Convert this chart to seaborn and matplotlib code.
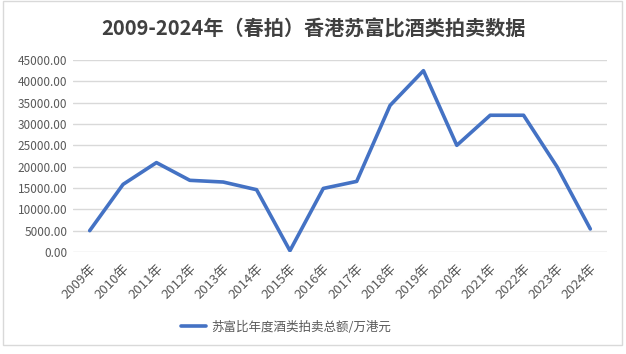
import numpy as np
import pandas as pd
import matplotlib
matplotlib.use("Agg")
from matplotlib import pyplot as plt
from matplotlib.patches import Rectangle
from matplotlib.ticker import FuncFormatter
import seaborn as sns

# data
years = ['2009年', '2010年', '2011年', '2012年', '2013年', '2014年', '2015年', '2016年',
         '2017年', '2018年', '2019年', '2020年', '2021年', '2022年', '2023年', '2024年']
totals = [5000, 15850, 20950, 16800, 16400, 14600, 300, 14900,
          16550, 34350, 42500, 25000, 32050, 32050, 20000, 5400]
series_name = '苏富比年度酒类拍卖总额/万港元'
title = '2009-2024年（春拍）香港苏富比酒类拍卖数据'

sns.set_style('white')
plt.rcParams['font.family'] = ['Noto Sans CJK SC', 'DejaVu Sans']

line_color = '#4472C4'
grid_color = '#D9D9D9'
text_color = '#595959'

df = pd.DataFrame({'year': years, 'total': totals})

fig = plt.figure(figsize=(6.26, 3.54), dpi=100)
ax = fig.add_axes([73/626, 1-252/354, (607-73)/626, (252-60)/354])

sns.lineplot(data=df, x='year', y='total', ax=ax, color=line_color, lw=2.6,
             label=series_name, sort=False)

ax.set_xlim(-0.5, len(years) - 0.5)
ax.set_ylim(0, 45000)
ax.set_yticks(np.arange(0, 45001, 5000))
ax.yaxis.set_major_formatter(FuncFormatter(lambda v, p: f'{v:.2f}'))
ax.grid(axis='y', color=grid_color, lw=1)
ax.set_axisbelow(True)
for s in ax.spines.values():
    s.set_visible(False)
ax.tick_params(axis='both', length=0, colors=text_color)
ax.tick_params(axis='y', labelsize=8.5, pad=4)
ax.tick_params(axis='x', labelsize=9.5, pad=7)
plt.setp(ax.get_xticklabels(), rotation=45, ha='right', rotation_mode='anchor')
ax.set_xlabel('')
ax.set_ylabel('')

ax.get_legend().remove()
handles, labels = ax.get_legend_handles_labels()
leg = fig.legend(handles, labels, loc='center', bbox_to_anchor=(286/626, 1-327/354),
                 frameon=False, fontsize=9, handlelength=2.0, handletextpad=0.4)
for t in leg.get_texts():
    t.set_color(text_color)

fig.text(313/626, 1-29/354, title, ha='center', va='center', fontsize=14.5,
         fontweight='bold', color='#404040')

fig.patches.append(Rectangle((3/626, 1-345/354), 619/626, 344/354, transform=fig.transFigure,
                             fill=False, edgecolor=grid_color, lw=1))

fig.savefig('out.png', dpi=100)
